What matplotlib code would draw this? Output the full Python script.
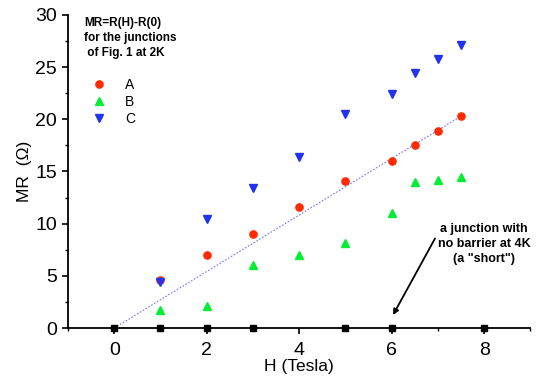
import matplotlib
matplotlib.use("Agg")
import matplotlib.pyplot as plt
from matplotlib.ticker import MultipleLocator

plt.rcParams['font.family'] = ['Liberation Sans', 'DejaVu Sans']

# field values (Tesla)
h_vals = [1, 2, 3, 4, 5, 6, 6.5, 7, 7.5]
mr_a = [4.6, 7.0, 9.0, 11.6, 14.1, 16.0, 17.5, 18.9, 20.3]
mr_b = [1.7, 2.1, 6.0, 7.0, 8.1, 11.0, 14.0, 14.2, 14.5]
mr_c = [4.4, 10.4, 13.4, 16.4, 20.5, 22.4, 24.4, 25.8, 27.1]

# junction with no barrier (short)
h_short = [0, 1, 2, 3, 5, 6, 8]
mr_short = [0, 0, 0, 0, 0, 0, 0]

# guide line through A
fit_h = [0, 7.5]
fit_mr = [0, 20.3]

fig = plt.figure(figsize=(5.37, 3.81), dpi=100)
ax = fig.add_axes([0.1266, 0.139, 0.861, 0.822])

ax.plot(fit_h, fit_mr, color='#7777ff', linestyle=(0, (1.5, 1.5)), linewidth=0.8, zorder=1)
ax.plot([0], [0], linestyle='none', marker='^', color='#00ee33', markersize=5, zorder=2)
ax.plot(h_short, mr_short, linestyle='none', marker='s', color='black', markersize=5, zorder=3,
        clip_on=False)
ax.plot(h_vals, mr_a, linestyle='none', marker='o', color='#ff2a00', markersize=5.2, label='A', zorder=4)
ax.plot(h_vals, mr_b, linestyle='none', marker='^', color='#00ee33', markersize=5.5, label='B', zorder=4)
ax.plot(h_vals, mr_c, linestyle='none', marker='v', color='#2233ee', markersize=5.5, label='C', zorder=4)

ax.set_xlim(-1, 9)
ax.set_ylim(0, 30)
ax.xaxis.set_major_locator(MultipleLocator(2))
ax.xaxis.set_minor_locator(MultipleLocator(1))
ax.yaxis.set_major_locator(MultipleLocator(5))
ax.yaxis.set_minor_locator(MultipleLocator(2.5))
ax.spines['top'].set_visible(False)
ax.spines['right'].set_visible(False)
ax.spines['left'].set_linewidth(1.3)
ax.spines['bottom'].set_linewidth(1.3)
ax.tick_params(which='major', direction='out', length=4, width=1.2, labelsize=14, pad=4)
ax.tick_params(axis='x', which='major', pad=6)
ax.tick_params(which='minor', direction='out', length=2, width=1.0)
ax.set_xlabel('H (Tesla)', fontsize=12.5, labelpad=0)
ax.set_ylabel('MR  (Ω)', fontsize=12.5, labelpad=2)

fig.text(84 / 537, 1 - 38 / 381, 'MR=R(H)-R(0)\nfor the junctions\n of Fig. 1 at 2K',
         fontsize=8.5, fontweight='bold', va='center', ha='left', linespacing=1.35)
ax.legend(loc='upper left', bbox_to_anchor=(85 / 537, 1 - 78 / 381),
          bbox_transform=fig.transFigure, frameon=False, fontsize=10,
          handletextpad=0.9, labelspacing=0.2, borderpad=0, borderaxespad=0)

ax.annotate('a junction with\nno barrier at 4K\n(a "short")', xy=(6.03, 1.25), xytext=(8.0, 8.05),
            fontsize=9, fontweight='bold', ha='center', va='center', linespacing=1.3,
            arrowprops=dict(arrowstyle='-|>', color='black', lw=1.3, shrinkA=0, shrinkB=0,
                            mutation_scale=8, relpos=(0.06, 1.0)))

fig.savefig('out.png', dpi=100)
